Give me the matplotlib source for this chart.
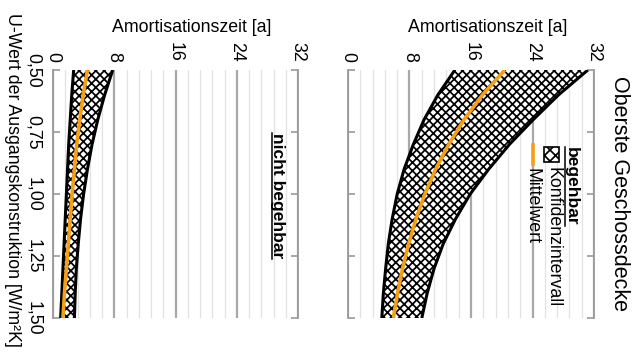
import matplotlib
matplotlib.use("Agg")
import matplotlib.pyplot as plt
from matplotlib.patches import Rectangle
from matplotlib.lines import Line2D
import numpy as np

plt.rcParams['font.family'] = ['Liberation Sans', 'DejaVu Sans']
plt.rcParams['hatch.linewidth'] = 1.25

# ---------------- data ----------------
u_values = [0.50, 0.60, 0.70, 0.80, 0.90, 1.00, 1.10, 1.20, 1.30, 1.40, 1.50]

# begehbar (walkable)
beg_lower = [13.9, 11.7, 9.9, 8.5, 7.3, 6.4, 5.75, 5.25, 4.9, 4.6, 4.4]
beg_upper = [31.2, 27.4, 24.1, 21.0, 18.3, 15.9, 14.0, 12.4, 11.2, 10.3, 9.6]
beg_mean = [20.4, 17.5, 15.1, 13.1, 11.4, 10.0, 8.85, 7.9, 7.1, 6.45, 5.9]

# nicht begehbar (not walkable)
nb_lower = [2.7, 2.45, 2.25, 2.05, 1.9, 1.75, 1.6, 1.45, 1.3, 1.15, 1.0]
nb_upper = [7.8, 6.75, 5.85, 5.1, 4.5, 4.0, 3.6, 3.3, 3.05, 2.9, 2.8]
nb_mean = [4.5, 3.95, 3.5, 3.1, 2.8, 2.5, 2.25, 2.0, 1.75, 1.5, 1.3]

u_ticks = [0.50, 0.75, 1.00, 1.25, 1.50]
u_ticklabels = ["0,50", "0,75", "1,00", "1,25", "1,50"]
t_ticks = [0, 8, 16, 24, 32]
t_ticklabels = ["0", "8", "16", "24", "32"]

title = "Oberste Geschossdecke"
t_label = "Amortisationszeit [a]"
u_label = "U-Wert der Ausgangskonstruktion [W/m²K]"
panel_nb = "nicht begehbar"
legend_header = "begehbar"
legend_ci = "Konfidenzintervall"
legend_mean = "Mittelwert"

# ---------------- layout ----------------
W, H = 642, 363
fig = plt.figure(figsize=(W / 100, H / 100), dpi=100)

def fx(px):
    return px / W

def fy(py):
    return 1 - py / H

FS = 12.8
ORANGE = '#F5A014'
GRID_MAJ = '#a8a8a8'
GRID_MIN = '#e2e2e2'
SPINE = '#9a9a9a'
HATCH = 'xxxx'

ax_nb = fig.add_axes([fx(53), fy(318), fx(298) - fx(53), fy(70) - fy(318)])
ax_b = fig.add_axes([fx(348), fy(318), fx(594) - fx(348), fy(70) - fy(318)])

def style(ax, show_u_labels):
    ax.set_xlim(0, 32)
    ax.set_ylim(1.5, 0.5)
    for s in ['top', 'bottom']:
        ax.spines[s].set_visible(False)
    for s in ['left', 'right']:
        ax.spines[s].set_color(SPINE)
        ax.spines[s].set_linewidth(1.3)
    ax.xaxis.tick_top()
    ax.set_xticks(t_ticks)
    ax.set_xticklabels(t_ticklabels, rotation=-90, fontsize=FS)
    ax.set_xticks(np.arange(0, 32.01, 1.6), minor=True)
    ax.tick_params(axis='x', which='both', length=0, pad=6)
    ax.grid(axis='x', which='minor', color=GRID_MIN, lw=0.9, zorder=0)
    ax.grid(axis='x', which='major', color=GRID_MAJ, lw=1.6, zorder=0)
    ax.set_yticks(u_ticks)
    if show_u_labels:
        ax.set_yticklabels(u_ticklabels, rotation=-90, va='center', fontsize=FS)
    else:
        ax.set_yticklabels([])
    ax.tick_params(axis='y', which='major', direction='in', left=True, right=True,
                   length=5, width=1.2, color=SPINE, pad=8)
    ax.set_axisbelow(True)
    ax.text(0.567, 1 + 43 / 248, t_label, transform=ax.transAxes,
            ha='center', va='center', fontsize=FS)

def draw_band(ax, lower, upper, mean):
    ax.fill_betweenx(u_values, lower, upper, facecolor='white', edgecolor='black',
                     hatch=HATCH, linewidth=0, zorder=2)
    ax.plot(lower, u_values, color='black', lw=2.2, zorder=3, solid_capstyle='butt')
    ax.plot(upper, u_values, color='black', lw=2.2, zorder=3, solid_capstyle='butt')
    ax.plot(mean, u_values, color=ORANGE, lw=2.6, zorder=4, solid_capstyle='butt')

style(ax_nb, True)
style(ax_b, False)
draw_band(ax_nb, nb_lower, nb_upper, nb_mean)
draw_band(ax_b, beg_lower, beg_upper, beg_mean)

# title and axis label
fig.text(fx(620), fy(194), title, rotation=-90, ha='center', va='center', fontsize=15.5)
fig.text(fx(12), fy(180), u_label, rotation=-90, ha='center', va='center', fontsize=FS)

# panel label "nicht begehbar"
t_nb = fig.text(fx(278), fy(196), panel_nb, rotation=-90, ha='center', va='center',
                fontsize=12.5, fontweight='bold')

# legend (manual, rotated)
t_hdr = fig.text(fx(571), fy(147), legend_header, rotation=-90, ha='center', va='top',
                 fontsize=12.5, fontweight='bold')
fig.add_artist(Rectangle((fx(544), fy(162)), fx(559) - fx(544), fy(147) - fy(162),
                         transform=fig.transFigure, facecolor='white', edgecolor='black',
                         hatch='xxx', linewidth=1.2))
fig.text(fx(553), fy(167), legend_ci, rotation=-90, ha='center', va='top', fontsize=FS)
fig.add_artist(Line2D([fx(533), fx(533)], [fy(145), fy(164)], transform=fig.transFigure,
                      color=ORANGE, lw=2.6))
fig.text(fx(532), fy(168), legend_mean, rotation=-90, ha='center', va='top', fontsize=FS)

# underlines
fig.canvas.draw()
r = fig.canvas.get_renderer()
inv = fig.transFigure.inverted()
for t in (t_nb, t_hdr):
    bb = t.get_window_extent(renderer=r)
    xline = bb.x0 + 1.0
    p0 = inv.transform((xline, bb.y0))
    p1 = inv.transform((xline, bb.y1))
    fig.add_artist(Line2D([p0[0], p1[0]], [p0[1], p1[1]], transform=fig.transFigure,
                          color='black', lw=1.1))

fig.savefig('out.png', dpi=100)
